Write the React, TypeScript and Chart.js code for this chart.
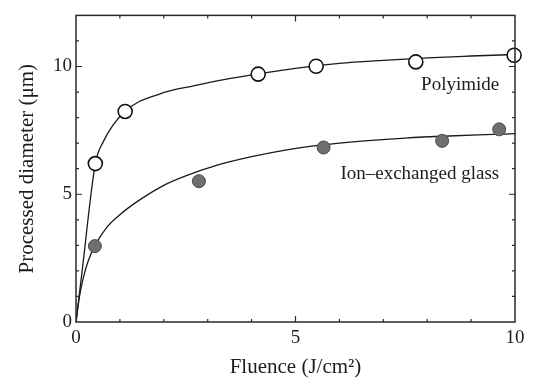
import React, { useEffect, useRef } from "react";
import { Chart, registerables } from "chart.js";

Chart.register(...registerables);

// Measured markers
const polyimideX = [0.44, 1.12, 4.15, 5.47, 7.74, 9.98];
const polyimideY = [6.2, 8.24, 9.7, 10.01, 10.18, 10.44];
const glassX = [0.43, 2.8, 5.64, 8.34, 9.64];
const glassY = [2.97, 5.51, 6.83, 7.09, 7.54];

// Fitted curves
const polyCurveX = [0, 0.15, 0.44, 0.62, 1.1, 1.9, 2.7, 3.4, 4.1, 5.0, 6.0, 7.0, 8.0, 9.0, 10];
const polyCurveY = [0, 2.15, 6.2, 7.05, 8.22, 8.92, 9.25, 9.5, 9.7, 9.93, 10.12, 10.24, 10.34, 10.41, 10.47];
const glassCurveX = [0, 0.08, 0.17, 0.28, 0.43, 0.7, 1.0, 1.4, 2.0, 2.5, 3.2, 4.0, 4.8, 5.6, 6.5, 7.5, 8.5, 9.5, 10];
const glassCurveY = [0, 1.0, 1.76, 2.4, 2.98, 3.7, 4.2, 4.72, 5.35, 5.72, 6.13, 6.47, 6.74, 6.93, 7.08, 7.2, 7.28, 7.34, 7.37];

const xLabeled = [0, 5, 10];
const yLabeled = [0, 5, 10];

const annotations = [
  { text: "Polyimide", x: 9.64, y: 9.29 },
  { text: "Ion\u2013exchanged glass", x: 9.64, y: 5.81 },
];

const FONT = "'Liberation Serif', 'Times New Roman', serif";
const INK = "#1c1c1c";

const zip = (xs: number[], ys: number[]) => xs.map((x, i) => ({ x, y: ys[i] }));

const framePlugin = {
  id: "frameTicks",
  afterDatasetsDraw(chart: any) {
    const { ctx, chartArea, scales } = chart;
    const { left, right, top, bottom } = chartArea;
    ctx.save();
    ctx.strokeStyle = "#2a2a2a";
    ctx.lineWidth = 1.2;
    // inward ticks
    const xs = scales.x;
    xs.ticks.forEach((t: any) => {
      if (t.value <= xs.min || t.value >= xs.max) return;
      const px = xs.getPixelForValue(t.value);
      const len = t.value % 5 === 0 ? 6 : 3;
      ctx.beginPath();
      ctx.moveTo(px, bottom);
      ctx.lineTo(px, bottom - len);
      ctx.moveTo(px, top);
      ctx.lineTo(px, top + len);
      ctx.stroke();
    });
    const ys = scales.y;
    ys.ticks.forEach((t: any) => {
      if (t.value <= ys.min || t.value >= ys.max) return;
      const py = ys.getPixelForValue(t.value);
      const len = t.value % 5 === 0 ? 6 : 3;
      ctx.beginPath();
      ctx.moveTo(left, py);
      ctx.lineTo(left + len, py);
      ctx.moveTo(right, py);
      ctx.lineTo(right - len, py);
      ctx.stroke();
    });
    ctx.lineWidth = 1.5;
    ctx.strokeRect(left, top, right - left, bottom - top);
    // annotations
    ctx.fillStyle = INK;
    ctx.font = `19px ${FONT}`;
    ctx.textAlign = "right";
    ctx.textBaseline = "middle";
    annotations.forEach((a) => {
      ctx.fillText(a.text, xs.getPixelForValue(a.x), ys.getPixelForValue(a.y));
    });
    ctx.restore();
  },
};

export default function App() {
  const ref = useRef<HTMLCanvasElement | null>(null);

  useEffect(() => {
    document.body.style.margin = "0";
    if (!ref.current) return;
    const chart = new Chart(ref.current, {
      type: "scatter",
      data: {
        datasets: [
          {
            label: "Polyimide",
            data: zip(polyimideX, polyimideY),
            showLine: false,
            pointRadius: 7,
            pointBackgroundColor: "#ffffff",
            pointBorderColor: "#111111",
            pointBorderWidth: 1.6,
            order: 0,
            clip: false,
          } as any,
          {
            label: "Ion–exchanged glass",
            data: zip(glassX, glassY),
            showLine: false,
            pointRadius: 6.5,
            pointBackgroundColor: "#6f6f6f",
            pointBorderColor: "#4a4a4a",
            pointBorderWidth: 1,
            order: 0,
            clip: false,
          } as any,
          {
            label: "Polyimide fit",
            data: zip(polyCurveX, polyCurveY),
            showLine: true,
            pointRadius: 0,
            borderColor: "#1a1a1a",
            borderWidth: 1.3,
            cubicInterpolationMode: "monotone",
            order: 1,
          } as any,
          {
            label: "Glass fit",
            data: zip(glassCurveX, glassCurveY),
            showLine: true,
            pointRadius: 0,
            borderColor: "#1a1a1a",
            borderWidth: 1.3,
            cubicInterpolationMode: "monotone",
            order: 1,
          } as any,
        ],
      },
      options: {
        animation: false,
        responsive: true,
        maintainAspectRatio: false,
        layout: { padding: { top: 12, right: 18, left: 0, bottom: 0 } },
        plugins: { legend: { display: false }, tooltip: { enabled: false } },
        scales: {
          x: {
            type: "linear",
            min: 0,
            max: 10,
            grid: { display: false, drawTicks: false },
            border: { display: false },
            ticks: {
              stepSize: 1,
              padding: 5,
              maxRotation: 0,
              autoSkip: false,
              color: INK,
              font: { family: FONT, size: 19 },
              callback: (v: any) => (xLabeled.includes(Number(v)) ? String(v) : ""),
            },
            title: {
              display: true,
              text: "Fluence (J/cm\u00B2)",
              color: INK,
              font: { family: FONT, size: 21 },
              padding: { top: 0, bottom: 3 },
            },
            afterFit: (s: any) => {
              s.height = 61;
            },
          },
          y: {
            type: "linear",
            min: 0,
            max: 12,
            grid: { display: false, drawTicks: false },
            border: { display: false },
            ticks: {
              stepSize: 1,
              padding: 4,
              autoSkip: false,
              color: INK,
              font: { family: FONT, size: 19 },
              callback: (v: any) => (yLabeled.includes(Number(v)) ? String(v) : ""),
            },
            title: {
              display: true,
              text: "Processed diameter (\u03BCm)",
              color: INK,
              font: { family: FONT, size: 21 },
              padding: { top: 15, bottom: 0 },
            },
            afterFit: (s: any) => {
              s.width = 76;
            },
          },
        },
      },
      plugins: [framePlugin],
    });
    return () => chart.destroy();
  }, []);

  return (
    <div style={{ position: "fixed", left: 0, top: 0, width: 533, height: 383, background: "#fff" }}>
      <canvas ref={ref} />
    </div>
  );
}
